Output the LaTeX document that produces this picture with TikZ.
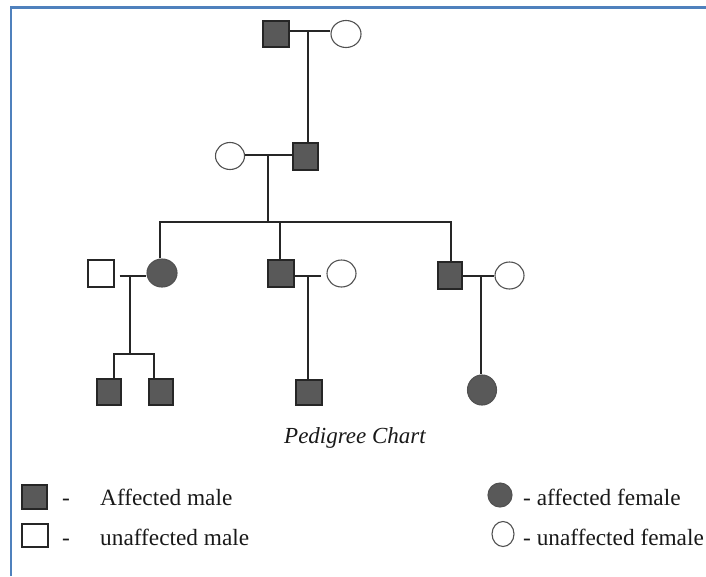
\documentclass[tikz,border=0pt]{standalone}
\usepackage{fontspec}
\setmainfont{Liberation Serif}
\usetikzlibrary{shapes.geometric}
\definecolor{frameblue}{HTML}{4F81BD}
\definecolor{affgray}{HTML}{595959}
\definecolor{edgegray}{HTML}{262626}
\begin{document}
\begin{tikzpicture}[x=1pt,y=-1pt,
  male/.style={draw=edgegray,line width=1.1pt,rectangle,inner sep=0pt,minimum width=#1},
  female/.style={draw=edgegray!80,line width=1.1pt,ellipse,inner sep=0pt},
  aff/.style={fill=affgray},
  unaff/.style={fill=white},
  link/.style={draw=edgegray,line width=1.1pt},
  lbl/.style={font=\fontsize{23.3}{28}\selectfont,inner sep=0pt,anchor=base west,text=black!90}
]
\useasboundingbox (0,0) rectangle (706,576);
\fill[white] (0,0) rectangle (706,576);
\draw[frameblue,line width=2.2pt] (11,576) -- (11,7.5) -- (706,7.5);

% generation 1
\node[male=26pt,minimum height=26pt,aff] (g1m) at (276,34) {};
\node[female,minimum width=30pt,minimum height=27pt,unaff] (g1f) at (346,34) {};
\coordinate (m1) at (308,31);
% generation 2
\node[female,minimum width=29pt,minimum height=27pt,unaff] (g2f) at (230,156) {};
\node[male=25pt,minimum height=27pt,aff] (g2m) at (305.5,156.5) {};
\coordinate (m2) at (268,155);
\coordinate (s2) at (268,222);
\coordinate (sL) at (160,222);
\coordinate (sM) at (280,222);
\coordinate (sR) at (451,222);
% generation 3
\node[male=26pt,minimum height=27pt,unaff] (g3u) at (101,273.5) {};
\node[female,minimum width=30pt,minimum height=28pt,aff] (g3f) at (162,273) {};
\coordinate (m3) at (130,276);
\node[male=26pt,minimum height=27pt,aff] (g3a) at (281,273.5) {};
\node[female,minimum width=29pt,minimum height=27pt,unaff] (g3w) at (341.5,273.5) {};
\coordinate (m4) at (308,276);
\node[male=24pt,minimum height=27pt,aff] (g3b) at (450,275.5) {};
\node[female,minimum width=29pt,minimum height=27pt,unaff] (g3x) at (509.5,275.5) {};
\coordinate (m5) at (481,276);
% generation 4
\coordinate (c1) at (130,354);
\coordinate (k1) at (114,354);
\coordinate (k2) at (154,354);
\node[male=24pt,minimum height=26pt,aff] (ch1) at (109,392) {};
\node[male=24pt,minimum height=26pt,aff] (ch2) at (161,392) {};
\node[male=26pt,minimum height=25pt,aff] (ch3) at (309,392.5) {};
\node[female,minimum width=29pt,minimum height=30pt,aff] (ch4) at (482,390) {};

% connectors
\draw[link] (g1m.east |- m1) -- (g1f.west |- m1);
\draw[link] (m1) -- (m1 |- g2m.north);
\draw[link] (g2f.east |- m2) -- (g2m.west |- m2);
\draw[link] (m2) -- (s2);
\draw[link] (sL |- g3f.north) -- (sL) -- (sR) -- (sR |- g3b.north);
\draw[link] (sM) -- (sM |- g3a.north);
\draw[link,shorten <=5pt] (g3u.east |- m3) -- (g3f.west |- m3);
\draw[link] (m3) -- (c1);
\draw[link] (k1 |- ch1.north) -- (k1) -- (k2) -- (k2 |- ch2.north);
\draw[link,shorten >=5pt] (g3a.east |- m4) -- (g3w.west |- m4);
\draw[link] (m4) -- (m4 |- ch3.north);
\draw[link] (g3b.east |- m5) -- (g3x.west |- m5);
\draw[link] (m5) -- (m5 |- ch4.north);

% caption
\node[font=\fontsize{23}{28}\selectfont\itshape,inner sep=0pt,anchor=base,text=black!90] (cap) at (355,443) {Pedigree Chart};

% legend
\node[male=25pt,minimum height=24pt,aff] (lsq1) at (34.5,497) {};
\node[male=26pt,minimum height=23pt,unaff] (lsq2) at (35,535.5) {};
\node[lbl] (ld1) at (62,505) {-};
\node[lbl] (ld2) at (62,545) {-};
\node[lbl] (lt1) at (100,505) {Affected male};
\node[lbl] (lt2) at (100,545) {unaffected male};
\node[female,minimum width=24pt,minimum height=24pt,aff] (lc1) at (500,495) {};
\node[female,minimum width=22pt,minimum height=25pt,unaff] (lc2) at (503,534) {};
\node[lbl] (lt3) at (523,505) {- affected female};
\node[lbl] (lt4) at (523,545) {- unaffected female};
\end{tikzpicture}
\end{document}
